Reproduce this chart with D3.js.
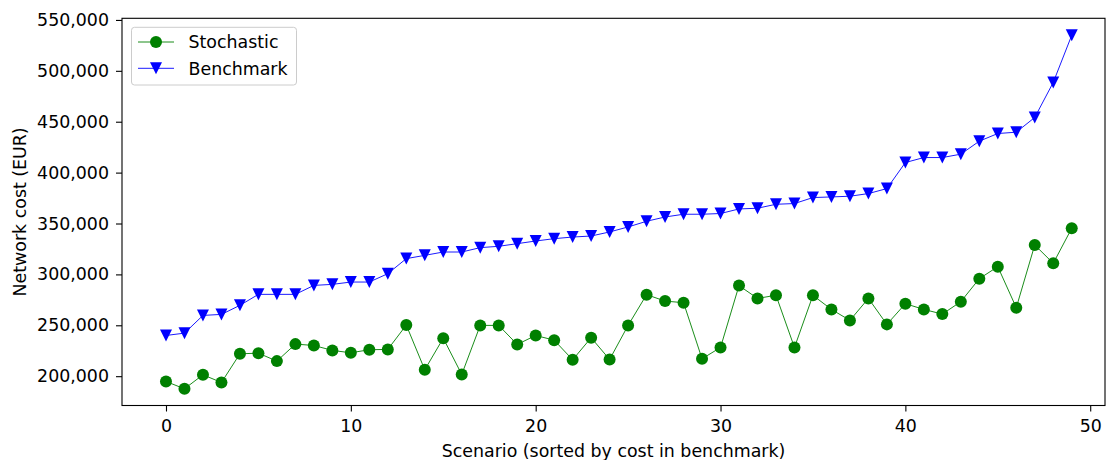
<!DOCTYPE html>
<html>
<head>
<meta charset="utf-8">
<script src="https://cdn.jsdelivr.net/npm/d3@7"></script>
<style>
  html, body { margin: 0; padding: 0; background: #fff; }
  svg { display: block; font-family: "DejaVu Sans", sans-serif; }
</style>
</head>
<body>
<svg id="chart" width="1106" height="460"></svg>
<script>
// Network cost per scenario, scenarios sorted by benchmark cost
const scenarios = d3.range(50);
const stochastic = [
  194800, 187600, 201400, 193800, 222000, 222600, 214800, 231500, 230200, 225300,
  223000, 226000, 226300, 250200, 206300, 237300, 201700, 249900, 249900, 231200,
  240000, 235400, 216100, 237800, 216400, 249900, 280100, 273800, 272200, 217100,
  228200, 289000, 276400, 279500, 228200, 279400, 265600, 254800, 276400, 250900,
  271200, 265600, 261000, 273200, 295800, 307600, 267300, 328900, 310900, 345300
];
const benchmark = [
  240000, 242300, 259700, 260700, 269600, 280400, 280400, 280400, 289200, 290200,
  292500, 292500, 300700, 315500, 318700, 322000, 322000, 326300, 327600, 330200,
  332800, 335100, 336700, 337700, 341700, 346600, 352200, 356400, 359100, 359100,
  359800, 364300, 365000, 368900, 369600, 375500, 376100, 376800, 379400, 384300,
  409900, 414800, 414800, 418100, 430900, 438400, 439700, 454200, 488600, 534900
];
const xTicks = [0, 10, 20, 30, 40, 50];
const yTicks = [200000, 250000, 300000, 350000, 400000, 450000, 500000, 550000];
const seriesNames = ["Stochastic", "Benchmark"];

const svg = d3.select("#chart");
const plot = { left: 122, right: 1105, top: 18.3, bottom: 405.5 };

const x = d3.scaleLinear().domain([-2.38, 50.8]).range([plot.left, plot.right]);
const y = d3.scaleLinear().domain([171200, 551600]).range([plot.bottom, plot.top]);

const fontSize = 17.4;

// axes
const xAxis = d3.axisBottom(x).tickValues(xTicks).tickSize(6).tickPadding(8).tickFormat(d3.format("d"));
const yAxis = d3.axisLeft(y).tickValues(yTicks).tickSize(6).tickPadding(7).tickFormat(d3.format(","));

const gx = svg.append("g").attr("transform", `translate(0,${plot.bottom})`).call(xAxis);
const gy = svg.append("g").attr("transform", `translate(${plot.left},0)`).call(yAxis);
[gx, gy].forEach(g => {
  g.select(".domain").remove();
  g.selectAll(".tick line").attr("stroke", "#000").attr("stroke-width", 1.1);
  g.selectAll(".tick text").attr("fill", "#000").style("font-size", fontSize + "px")
    .style("font-family", "DejaVu Sans, sans-serif");
});

// axis frame
svg.append("rect")
  .attr("x", plot.left).attr("y", plot.top)
  .attr("width", plot.right - plot.left).attr("height", plot.bottom - plot.top)
  .attr("fill", "none").attr("stroke", "#000").attr("stroke-width", 1.1);

// axis titles
svg.append("text")
  .attr("x", (plot.left + plot.right) / 2).attr("y", 451).attr("dy", "0.36em")
  .attr("text-anchor", "middle").style("font-size", fontSize + "px")
  .text("Scenario (sorted by cost in benchmark)");
svg.append("text")
  .attr("transform", `translate(20,${(plot.top + plot.bottom) / 2}) rotate(-90)`)
  .attr("dy", "0.36em")
  .attr("text-anchor", "middle").style("font-size", fontSize + "px")
  .text("Network cost (EUR)");

const g = svg.append("g");

const line = d3.line().x((d, i) => x(scenarios[i])).y(d => y(d));

// triangle-down marker path centred on the point
function triDown(cx, cy, s) {
  return `M${cx - s},${cy - s}L${cx + s},${cy - s}L${cx},${cy + s}Z`;
}

// Stochastic series
g.append("path").datum(stochastic)
  .attr("d", line).attr("fill", "none").attr("stroke", "green").attr("stroke-width", 0.9);
g.selectAll("circle.sto").data(stochastic).join("circle")
  .attr("class", "sto")
  .attr("cx", (d, i) => x(scenarios[i])).attr("cy", d => y(d))
  .attr("r", 6).attr("fill", "green");

// Benchmark series
g.append("path").datum(benchmark)
  .attr("d", line).attr("fill", "none").attr("stroke", "blue").attr("stroke-width", 0.9);
g.selectAll("path.bench").data(benchmark).join("path")
  .attr("class", "bench")
  .attr("d", (d, i) => triDown(x(scenarios[i]), y(d), 6))
  .attr("fill", "blue");

// legend
const lg = svg.append("g");
lg.append("rect")
  .attr("x", 131.5).attr("y", 27.3).attr("width", 165).attr("height", 57.7)
  .attr("rx", 3).attr("fill", "#fff").attr("fill-opacity", 0.8)
  .attr("stroke", "#ccc").attr("stroke-width", 1);
const rows = [
  { name: seriesNames[0], color: "green", shape: "circle", cy: 42 },
  { name: seriesNames[1], color: "blue", shape: "tri", cy: 68.3 }
];
rows.forEach(r => {
  lg.append("line").attr("x1", 138).attr("x2", 174).attr("y1", r.cy).attr("y2", r.cy)
    .attr("stroke", r.color).attr("stroke-width", 0.9);
  if (r.shape === "circle") {
    lg.append("circle").attr("cx", 156).attr("cy", r.cy).attr("r", 6).attr("fill", r.color);
  } else {
    lg.append("path").attr("d", triDown(156, r.cy, 6)).attr("fill", r.color);
  }
  lg.append("text").attr("x", 188.5).attr("y", r.cy).attr("dy", "0.36em")
    .style("font-size", fontSize + "px").text(r.name);
});
</script>
</body>
</html>
